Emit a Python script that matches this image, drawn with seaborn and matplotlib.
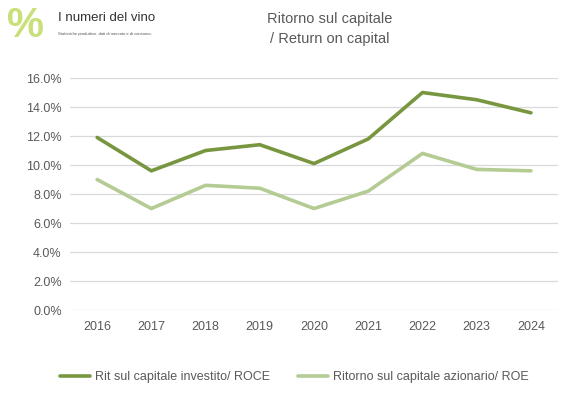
import pandas as pd
import seaborn as sns
import matplotlib.pyplot as plt
from matplotlib.ticker import PercentFormatter

# data
years = ['2016', '2017', '2018', '2019', '2020', '2021', '2022', '2023', '2024']
roce = [11.9, 9.6, 11.0, 11.4, 10.1, 11.8, 15.0, 14.5, 13.6]
roe = [9.0, 7.0, 8.6, 8.4, 7.0, 8.2, 10.8, 9.7, 9.6]
series_names = ['Rit sul capitale investito/ ROCE', 'Ritorno sul capitale azionario/ ROE']

df = pd.DataFrame({'anno': years * 2,
                   'valore': roce + roe,
                   'serie': [series_names[0]] * len(years) + [series_names[1]] * len(years)})

sns.set_theme(style='white')
plt.rcParams['font.family'] = ['Liberation Sans', 'DejaVu Sans']

fig = plt.figure(figsize=(5.81, 3.97), dpi=100)
ax = fig.add_axes([0.1205, 0.219, 0.84, 0.5845])

palette = {series_names[0]: '#77963F', series_names[1]: '#B4CC93'}
sns.lineplot(data=df, x='anno', y='valore', hue='serie', palette=palette,
             linewidth=2.6, ax=ax, sort=False)

ax.set_ylim(0, 16)
ax.set_yticks(range(0, 17, 2))
ax.yaxis.set_major_formatter(PercentFormatter(decimals=1))
ax.set_xlim(-0.5, 8.5)
ax.grid(axis='y', color='#D9D9D9', linewidth=0.9)
ax.set_axisbelow(True)
for s in ax.spines.values():
    s.set_visible(False)
ax.tick_params(axis='both', length=0, labelsize=9, labelcolor='#595959')
ax.tick_params(axis='x', pad=8)
ax.tick_params(axis='y', pad=6)
ax.set_xlabel('')
ax.set_ylabel('')

ax.legend(loc='center', bbox_to_anchor=(0.46, -0.29), ncol=2, frameon=False,
          fontsize=9, handlelength=2.4, handletextpad=0.4, columnspacing=2.2,
          labelcolor='#595959')

fig.text(0.568, 0.952, 'Ritorno sul capitale', ha='center', va='center', fontsize=10.5, color='#595959')
fig.text(0.568, 0.902, '/ Return on capital', ha='center', va='center', fontsize=10.5, color='#595959')

# logo
fig.text(0.012, 0.935, '%', ha='left', va='center', fontsize=30, color='#C9E07A', fontweight='bold')
fig.text(0.1, 0.955, 'I numeri del vino', ha='left', va='center', fontsize=9.5, color='#333333')
fig.text(0.1, 0.915, 'Statistiche produttive, dati di mercato e di consumo.', ha='left',
         va='center', fontsize=3, color='#555555')

fig.savefig('out.png', dpi=100)
